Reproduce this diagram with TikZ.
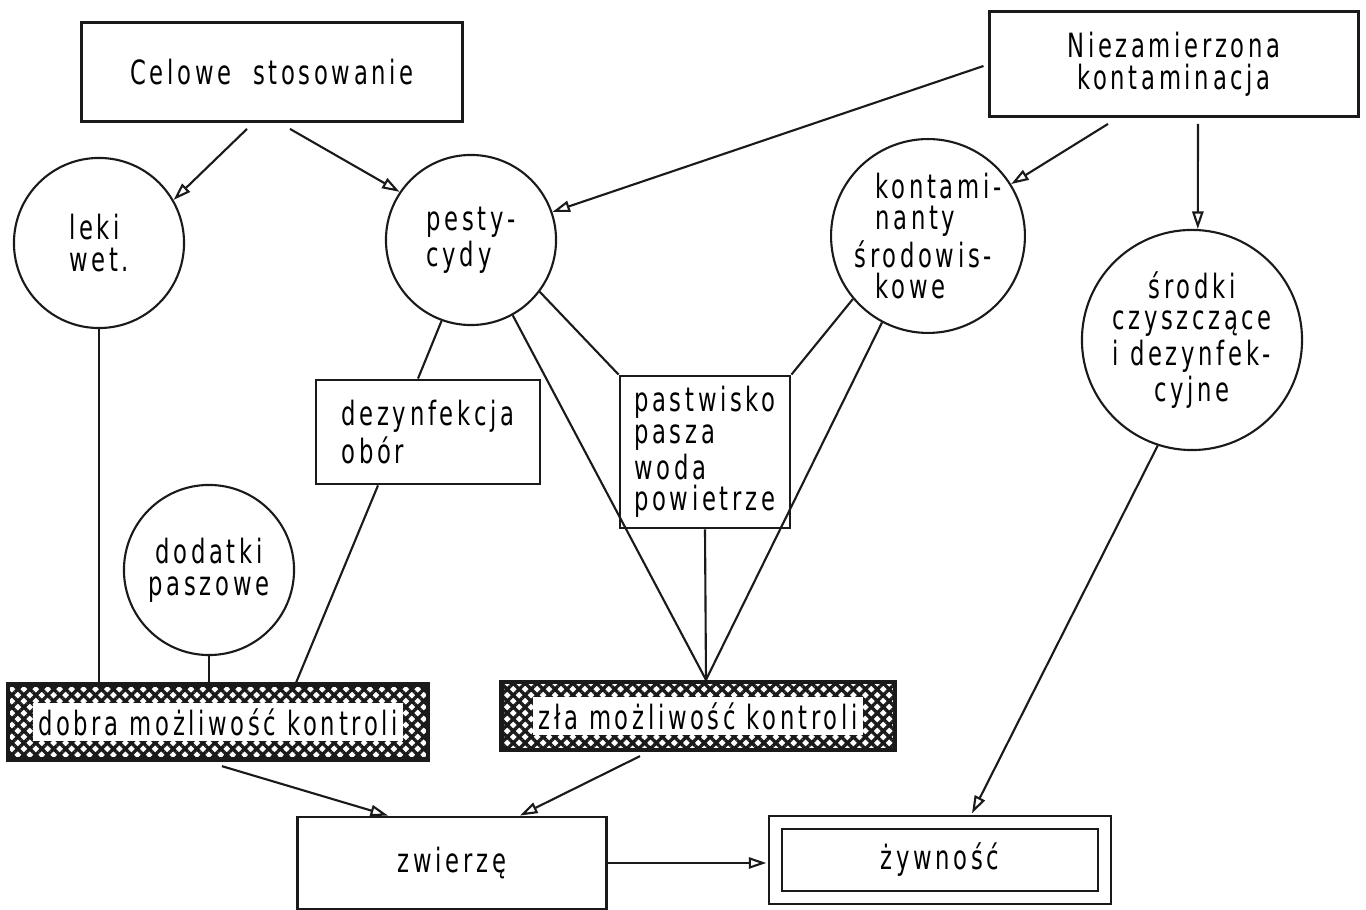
\documentclass[tikz,border=0pt]{standalone}
\usepackage{fontspec}
\setmainfont{DejaVu Sans}[FakeStretch=0.68,LetterSpace=11]
\usepackage{tikz}
\usetikzlibrary{arrows.meta, calc, patterns.meta}
\definecolor{ink}{HTML}{1A1A1A}
\tikzset{
  source/.style={draw=ink,line width=0.8pt,align=center},
  agent/.style={circle,draw=ink,line width=0.6pt,minimum size=1.7cm,inner sep=0pt,align=left},
  place/.style={draw=ink,line width=0.8pt,align=left,inner sep=0pt},
  control/.style={draw=ink,line width=1.2pt,pattern={Hatch[angle=45,distance=2.4pt,line width=0.95pt]},pattern color=ink},
  controltext/.style={fill=white,inner sep=1.5pt},
  food/.style={draw=ink,line width=0.6pt,double,double distance=0.11cm},
  relation/.style={line width=0.6pt,-{Triangle[open,length=5pt,width=3.2pt]},ink},
  link/.style={line width=0.6pt,ink},
}

\begin{document}
\begin{tikzpicture}[x=0.01cm,y=-0.01cm,every node/.style={font=\fontsize{9.5}{9}\selectfont}]
	    \useasboundingbox (0,0) rectangle (1366,910);
	    % sources
	    \node[source,minimum width=3.81cm,minimum height=0.99cm] (celowe) at (272,72) {Celowe\ \ stosowanie};
	    \node[source,minimum width=3.68cm,minimum height=1.05cm] (niezam) at (1174,64) {Niezamierzona\\kontaminacja};
	    % substances
	    \node[agent] (leki) at (99,243) {leki\\wet.};
	    \node[agent] (pest) at (471,240) {pesty-\\cydy};
	    \node[agent] (kontam) at (928,236) {\hspace*{6pt}kontami-\\\hspace*{6pt}nanty\\środowis-\\\hspace*{6pt}kowe};
	    \node[agent,minimum size=2.2cm,align=center] (srodki) at (1192,340) {środki\\czyszczące\\i dezynfek-\\cyjne};
	    \node[agent,align=center] (dodatki) at (209,570) {dodatki\\paszowe};
	    % routes
	    \node[place,minimum width=2.24cm,minimum height=1.04cm] (dezyn) at (428,432) {dezynfekcja\\obór};
	    \node[place,minimum width=1.70cm,minimum height=1.52cm] (pastw) at (705,452) {pastwisko\\pasza\\woda\\powietrze};
	    % control
	    \node[control,minimum width=4.20cm,minimum height=0.75cm] (dobra) at (218,722) {};
	    \node[controltext] (dobratxt) at (dobra) {dobra możliwość\ kontroli};
	    \node[control,minimum width=3.93cm,minimum height=0.68cm] (zla) at (698,716) {};
	    \node[controltext] (zlatxt) at (zla) {zła możliwość kontroli};
	    % targets
	    \node[draw=ink,line width=0.8pt,minimum width=3.09cm,minimum height=0.92cm] (zwierze) at (452,863) {zwierzę};
	    \node[food,minimum width=3.29cm,minimum height=0.75cm] (zywn) at (940,860) {żywność};
	    \coordinate (meet) at ($(zla.north)+(8,0)$);
	    \draw[relation] ($(celowe.south)+(-25,6)$) -- (leki.30);
	    \draw[relation] ($(celowe.south)+(18,6)$) -- (pest.146);
	    \draw[relation] ($(niezam.west)+(-5,2)$) -- (pest.19);
	    \draw[relation] ($(niezam.south)+(-66,6)$) -- (kontam.32);
	    \draw[relation] ($(niezam.south)+(24,6)$) -- (srodki.87);
	    \draw[link] (leki.south) -- (leki.south |- dobra.north);
	    \draw[link] (dodatki.south) -- (dodatki.south |- dobra.north);
	    \draw[link] ($(dezyn.south)+(-50,0)$) -- ($(dobra.north)+(78,0)$);
	    \draw[link] (pest.-110) -- ($(dezyn.north)+(-10,0)$);
	    \draw[link] (pest.-37) -- (pastw.north west);
	    \draw[link] (pest.-61) -- (meet);
	    \draw[link] (kontam.220) -- (pastw.north east);
	    \draw[link] (kontam.242) -- (meet);
	    \draw[link] (pastw.south) -- (meet);
	    \draw[relation] ($(dobra.south)+(4,5)$) -- ($(zwierze.north)+(-64,0)$);
	    \draw[relation] ($(zla.south)+(-58,4)$) -- ($(zwierze.north)+(68,0)$);
	    \draw[relation] (zwierze.east) -- ($(zwierze.east -| zywn.west)+(-8,0)$);
	    \draw[relation] (srodki.-108) -- ($(zywn.north)+(32,-8)$);
	\end{tikzpicture}
\end{document}
